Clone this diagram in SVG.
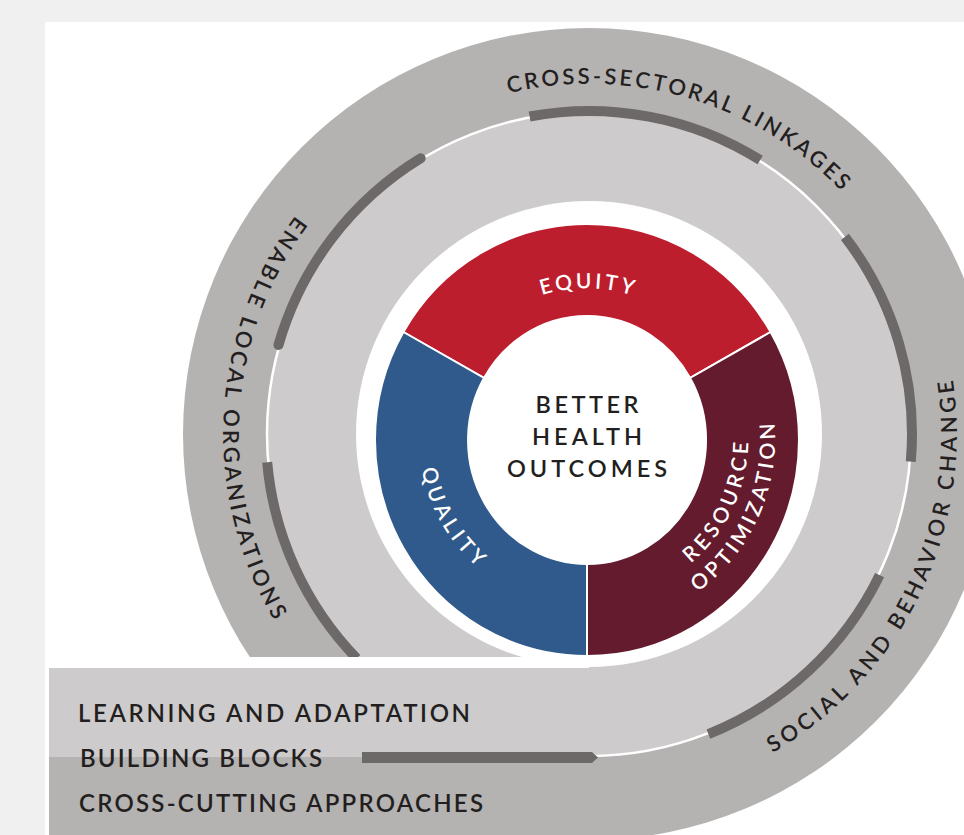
<svg xmlns="http://www.w3.org/2000/svg" width="964" height="835" viewBox="0 0 964 835">
<style>
.t{font-family:Lato,"Liberation Sans",sans-serif;font-weight:600;fill:#231f20}
.o{font-size:22px}
.d{font-size:21px;fill:#fff}
.c{font-size:23.5px}
.b{font-size:24px}
.bar{fill:none;stroke:#6e6969;stroke-width:10}
.seg{stroke:#fff;stroke-width:2}
</style>
<defs>
<path id="pCross" d="M263.1,306.3 A350,350 0 0 1 932.1,503.2"/>
<path id="pEnable" d="M576.2,68.2 A366,366 0 0 0 538.1,796.4"/>
<path id="pSocial" d="M458.3,778 A368,368 0 0 0 777.4,117.9"/>
<path id="pEquity" d="M435.6,426.8 A152,152 0 0 1 738.4,426.8"/>
<path id="pQuality" d="M491.6,301.7 A168,168 0 0 0 656.9,592.7"/>
<path id="pRes" d="M530.9,590.9 A161,161 0 0 0 668.5,301.1"/>
<path id="pOpt" d="M524.5,617.3 A188,188 0 0 0 679.3,276.2"/>
</defs>
<rect width="964" height="835" fill="#f0f0f0"/>
<rect x="45" y="22" width="919" height="813" fill="#fff"/>
<g id="rings">
<circle cx="589" cy="434" r="406" fill="#b5b2b2"/>
<circle cx="589" cy="434" r="322" fill="#cdcbcb"/>
<circle cx="589" cy="434" r="322" fill="none" stroke="#fff" stroke-width="2.5"/>
<circle cx="589" cy="434" r="233" fill="#fff"/>
</g>
<g id="connectors">
<path class="bar" d="M529.6,116.5 A323,323 0 0 1 760.2,160.1"/>
<path class="bar" stroke-linecap="round" d="M420.7,158.3 A323,323 0 0 0 278.5,345"/>
<path class="bar" d="M267.2,462.2 A323,323 0 0 0 356.7,658.4"/>
<path class="bar" d="M844.9,236.9 A323,323 0 0 1 910.8,461.6"/>
<path class="bar" d="M879.6,575.1 A323,323 0 0 1 708.4,734.1"/>
</g>
<rect x="45" y="657" width="544" height="11" fill="#fff"/>
<g id="band">
<rect x="49" y="668" width="540" height="89" fill="#cdcbcb"/>
<rect x="49" y="757" width="540" height="80" fill="#b5b2b2"/>
<polygon points="362,752 592,752 598,757.5 592,763 362,763" fill="#6e6969"/>
<text class="t b" x="78" y="722" textLength="392" lengthAdjust="spacing">LEARNING AND ADAPTATION</text>
<text class="t b" x="80" y="767" textLength="242" lengthAdjust="spacing">BUILDING BLOCKS</text>
<text class="t b" x="79" y="812" textLength="404" lengthAdjust="spacing">CROSS-CUTTING APPROACHES</text>
</g>
<g id="outer-labels">
<text class="t o"><textPath href="#pCross" startOffset="50%" text-anchor="middle" textLength="363" lengthAdjust="spacing">CROSS-SECTORAL LINKAGES</textPath></text>
<text class="t o"><textPath href="#pEnable" startOffset="50%" text-anchor="middle" textLength="430" lengthAdjust="spacing">ENABLE LOCAL ORGANIZATIONS</textPath></text>
<text class="t o"><textPath href="#pSocial" startOffset="50%" text-anchor="middle" textLength="440" lengthAdjust="spacing">SOCIAL AND BEHAVIOR CHANGE</textPath></text>
</g>
<g id="equity">
<path class="seg" fill="#bd1e2d" d="M403.4,332 A212,216 0 0 1 770.6,332 L690.1,378 A119,124 0 0 0 484,378 Z"/>
<text class="t d"><textPath href="#pEquity" startOffset="50%" text-anchor="middle" textLength="92" lengthAdjust="spacing">EQUITY</textPath></text>
</g>
<g id="resource-optimization">
<path class="seg" fill="#641b2e" d="M770.6,332 A212,216 0 0 1 587,656 L587,564 A119,124 0 0 0 690.1,378 Z"/>
<text class="t d"><textPath href="#pRes" startOffset="50%" text-anchor="middle" textLength="138" lengthAdjust="spacing">RESOURCE</textPath></text>
<text class="t d"><textPath href="#pOpt" startOffset="50%" text-anchor="middle" textLength="194" lengthAdjust="spacing">OPTIMIZATION</textPath></text>
</g>
<g id="quality">
<path class="seg" fill="#2f5a8b" d="M587,656 A212,216 0 0 1 403.4,332 L484,378 A119,124 0 0 0 587,564 Z"/>
<text class="t d"><textPath href="#pQuality" startOffset="50%" text-anchor="middle" textLength="115" lengthAdjust="spacing">QUALITY</textPath></text>
</g>
<g id="center">
<text class="t c" x="587" y="413" text-anchor="middle" textLength="103" lengthAdjust="spacing">BETTER</text>
<text class="t c" x="587" y="445" text-anchor="middle" textLength="110" lengthAdjust="spacing">HEALTH</text>
<text class="t c" x="587" y="477" text-anchor="middle" textLength="160" lengthAdjust="spacing">OUTCOMES</text>
</g>
</svg>
